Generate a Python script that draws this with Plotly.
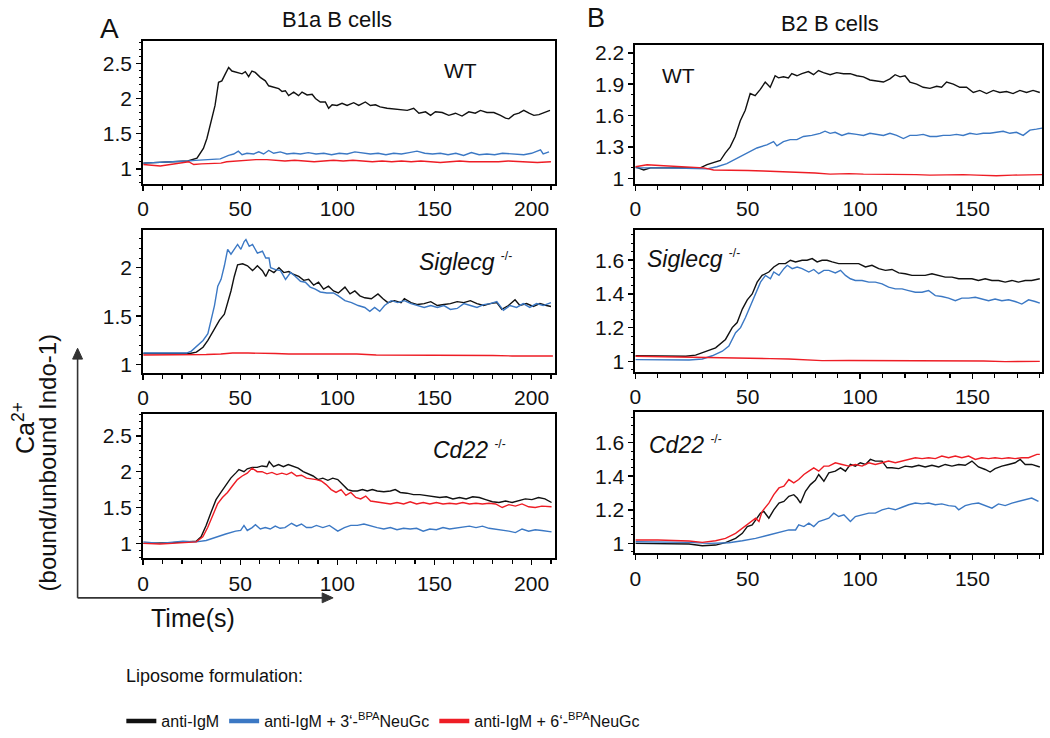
import plotly.graph_objects as go

FONT = "Liberation Sans, Arial, Helvetica, sans-serif"
BLACK = "#111111"
BLUE = "#3b78c4"
RED = "#ee1d25"

series_names = ["anti-IgM",
                "anti-IgM + 3‘-<sup>BPA</sup>NeuGc",
                "anti-IgM + 6‘-<sup>BPA</sup>NeuGc"]
series_colors = [BLACK, BLUE, RED]

# ---------------- B1a B cells, WT ----------------
b1a_wt_igm = [(0,1.08),(10,1.09),(23,1.11),(27.7,1.15),(31,1.29),(32.8,1.43),(34.5,1.62),(37,1.90),(38.8,2.23),(40.5,2.25),(42.3,2.35),(44,2.44),(45.7,2.39),(48.3,2.37),(50.9,2.35),(52.6,2.38),(54.3,2.31),(56,2.39),(57.7,2.37),(60.3,2.30),(62.9,2.25),(64.6,2.18),(67.2,2.16),(69.8,2.14),(71.5,2.10),(73.2,2.11),(74.9,2.04),(77.5,2.09),(80,2.04),(81.8,2.09),(84.4,2.05),(87,2.06),(88.7,2.00),(91.2,1.95),(93.8,1.95),(95.5,1.86),(97.3,1.91),(99.8,1.90),(102.4,1.93),(105,1.90),(108.4,1.94),(111,1.90),(114.4,1.95),(117,1.90),(119.6,1.91),(122,1.88),(125.6,1.86),(129,1.85),(132.5,1.85),(136,1.83),(139.3,1.86),(142,1.79),(145.4,1.81),(148,1.76),(150.5,1.81),(154,1.80),(157.4,1.76),(160.8,1.79),(164.2,1.75),(167.7,1.81),(171,1.79),(173.7,1.83),(177,1.80),(180.6,1.80),(184,1.76),(186.6,1.72),(188.3,1.71),(190.9,1.77),(193.5,1.79),(196,1.83),(198.7,1.79),(201.2,1.76),(203.8,1.77),(206.4,1.80),(209.5,1.83)]
b1a_wt_3 = [(0,1.08),(10,1.09),(23,1.11),(26.8,1.12),(32.8,1.13),(39.7,1.14),(44,1.19),(46.6,1.21),(49,1.25),(50.9,1.20),(53.4,1.22),(56.9,1.21),(59.5,1.24),(62,1.21),(64.6,1.26),(67.2,1.22),(70.6,1.24),(74,1.21),(77.5,1.22),(81,1.21),(85,1.23),(89,1.21),(93,1.22),(97,1.20),(101,1.22),(105,1.21),(109,1.24),(113,1.22),(117,1.21),(121,1.22),(125,1.20),(129,1.22),(133,1.21),(137,1.23),(141,1.25),(145,1.22),(149,1.21),(153,1.22),(157,1.20),(161,1.22),(165,1.19),(169,1.23),(173,1.20),(177,1.21),(181,1.20),(185,1.22),(189,1.21),(193,1.20),(196,1.20),(200,1.22),(204.6,1.27),(206,1.21),(209,1.24)]
b1a_wt_6 = [(0,1.06),(4,1.05),(8.8,1.04),(23.4,1.10),(26,1.06),(30,1.07),(35,1.07),(40,1.08),(43,1.10),(48,1.11),(53,1.13),(58,1.13),(63.7,1.13),(68,1.12),(73,1.11),(78,1.12),(83,1.11),(88,1.10),(93,1.11),(98,1.12),(103,1.11),(108,1.12),(113,1.11),(118,1.10),(123,1.11),(128,1.10),(133,1.11),(138,1.10),(143,1.11),(148,1.10),(153,1.09),(158,1.10),(163,1.11),(168,1.10),(173,1.10),(178,1.09),(183,1.10),(188,1.11),(193,1.10),(198,1.10),(203,1.09),(210,1.10)]

# ---------------- B1a B cells, Siglecg-/- ----------------
b1a_sig_igm = [(0,1.115),(10,1.115),(24,1.115),(27.4,1.13),(30.8,1.18),(33.3,1.25),(35.9,1.34),(39.3,1.46),(41.8,1.52),(43.5,1.63),(45.2,1.76),(46.9,1.91),(48.6,2.03),(51.2,2.04),(53.7,2.02),(56.3,1.97),(58.8,2.02),(61.4,1.97),(63.1,1.91),(64.8,1.98),(67.3,1.95),(69.9,2.00),(72.4,1.95),(75,1.96),(77.6,1.93),(80.1,1.91),(82.7,1.87),(85.2,1.88),(87.8,1.82),(90.3,1.85),(92.9,1.78),(95.4,1.81),(98,1.76),(100.5,1.74),(103.9,1.80),(106.5,1.73),(109,1.76),(111.6,1.71),(114.1,1.69),(117.5,1.68),(120.9,1.73),(123.5,1.68),(126,1.64),(129.4,1.66),(132.8,1.64),(134.5,1.68),(137.9,1.64),(141.3,1.62),(144.7,1.63),(148.1,1.65),(151.5,1.61),(154.9,1.62),(158.2,1.63),(161.7,1.65),(165.1,1.64),(168.5,1.66),(171.9,1.63),(175.3,1.61),(178.7,1.63),(182.1,1.64),(184.7,1.57),(188.1,1.61),(191.5,1.67),(194,1.61),(197.4,1.63),(200.9,1.60),(204.3,1.63),(207.7,1.61),(210,1.60)]
b1a_sig_3 = [(0,1.12),(10,1.12),(22.3,1.12),(24.8,1.14),(28.2,1.20),(30.8,1.25),(33.3,1.32),(35,1.46),(36.7,1.61),(38.4,1.81),(40.1,1.88),(41.8,2.02),(43.5,2.19),(45.2,2.14),(46.9,2.19),(48.6,2.24),(50.3,2.19),(52,2.27),(52.9,2.29),(54.6,2.22),(56.3,2.24),(58.8,2.15),(61.4,2.17),(63.1,2.10),(64.8,2.10),(65.6,2.00),(68.2,1.98),(70.7,1.97),(73.3,1.88),(75.9,1.95),(78.4,1.91),(81,1.86),(83.5,1.85),(86,1.80),(88.6,1.78),(91.2,1.75),(94.6,1.74),(98,1.74),(100.5,1.71),(103.9,1.66),(107.3,1.64),(110.7,1.61),(114.1,1.59),(116.7,1.55),(119.2,1.59),(121.8,1.55),(124.3,1.61),(127.7,1.66),(131.1,1.64),(134.5,1.66),(137.9,1.63),(141.3,1.61),(144.7,1.59),(148.1,1.61),(151.5,1.59),(154.9,1.61),(158.2,1.57),(161.7,1.58),(165.1,1.63),(168.5,1.61),(171.9,1.59),(175.3,1.62),(178.7,1.63),(182.1,1.65),(185.5,1.56),(188.9,1.61),(192.3,1.59),(195.7,1.63),(199.1,1.59),(202.6,1.63),(206,1.61),(210,1.64)]
b1a_sig_6 = [(0,1.10),(12,1.10),(24,1.10),(32.5,1.105),(40,1.11),(46,1.12),(54,1.12),(61.4,1.12),(68,1.115),(75,1.11),(85,1.11),(92,1.105),(100.5,1.105),(110,1.11),(120,1.10),(134.5,1.10),(145,1.10),(155,1.095),(168.5,1.095),(180,1.095),(190,1.09),(200,1.09),(211,1.09)]

# ---------------- B1a B cells, Cd22-/- ----------------
b1a_cd22_igm = [(0,1.0),(8.6,1.0),(15,1.01),(22,1.02),(27.3,1.03),(29.8,1.09),(32.4,1.25),(34.9,1.43),(37.5,1.61),(40,1.71),(42.5,1.80),(45.1,1.91),(47.6,1.98),(49.3,2.03),(51.9,2.00),(53.6,2.04),(56.1,2.06),(58.7,2.06),(61.2,2.08),(63.7,2.07),(64.9,2.14),(67.1,2.07),(69.7,2.10),(72.2,2.07),(74.7,2.10),(77.3,2.08),(79.8,2.05),(82.4,2.00),(84.9,1.97),(87.5,1.94),(90,1.89),(92.5,1.91),(95.1,1.88),(97.6,1.91),(100.2,1.89),(102.7,1.82),(105.3,1.75),(107.8,1.73),(110.3,1.73),(112.9,1.75),(115.4,1.73),(118,1.75),(120.5,1.73),(123.9,1.72),(127.3,1.73),(129.8,1.75),(132.4,1.71),(135.8,1.70),(139.2,1.68),(142.5,1.68),(145.9,1.67),(149.3,1.65),(152.7,1.64),(156.1,1.65),(159.5,1.62),(162.9,1.64),(166.3,1.62),(169.7,1.65),(173.1,1.64),(176.4,1.61),(179.8,1.58),(183.2,1.57),(186.6,1.59),(190,1.57),(193.4,1.59),(196.8,1.62),(200.2,1.61),(203.6,1.64),(206.9,1.62),(210.3,1.57)]
b1a_cd22_3 = [(0,1.02),(8.6,1.0),(20.5,1.03),(27.3,1.02),(32.4,1.04),(37.5,1.09),(42.5,1.13),(47.6,1.17),(50.2,1.18),(51.9,1.25),(53.6,1.18),(56.1,1.22),(57.8,1.26),(60.3,1.20),(62.9,1.22),(65.4,1.20),(68,1.24),(70.5,1.21),(73,1.22),(76.4,1.28),(79,1.24),(81.5,1.27),(84.1,1.22),(86.6,1.22),(89.2,1.25),(92.5,1.22),(95.9,1.25),(100.2,1.17),(103.6,1.22),(106.9,1.25),(110.3,1.25),(113.7,1.27),(117.1,1.24),(120.5,1.22),(123.9,1.20),(127.3,1.22),(130.7,1.19),(134.1,1.21),(137.5,1.20),(140.8,1.21),(144.2,1.17),(147.6,1.20),(151,1.19),(154.4,1.22),(157.8,1.20),(161.2,1.21),(164.6,1.22),(168,1.24),(171.4,1.22),(174.7,1.24),(178.1,1.21),(181.5,1.20),(184.9,1.18),(188.3,1.17),(191.7,1.15),(195.1,1.20),(198.5,1.17),(201.9,1.19),(205.3,1.18),(210.3,1.16)]
b1a_cd22_6 = [(0,1.0),(8.6,0.99),(15,1.0),(22,1.01),(27.3,1.02),(30.7,1.09),(33.2,1.22),(35.8,1.39),(38.3,1.55),(40.8,1.64),(43.4,1.71),(45.9,1.80),(48.5,1.89),(51,1.94),(53.6,1.98),(56.1,2.05),(58.7,2.00),(61.2,2.00),(63.7,1.97),(66.3,1.99),(68.8,1.96),(71.4,1.98),(73.9,1.96),(76.4,1.99),(79,1.94),(81.5,1.95),(84.1,1.91),(86.6,1.90),(89.2,1.89),(91.7,1.87),(94.2,1.82),(96.8,1.75),(99.3,1.71),(101.9,1.75),(104.4,1.67),(106.9,1.71),(109.5,1.64),(112,1.62),(114.6,1.66),(117.1,1.59),(120.5,1.58),(123.9,1.57),(127.3,1.55),(130.7,1.57),(134.1,1.55),(137.5,1.58),(140.8,1.55),(144.2,1.57),(147.6,1.55),(151,1.57),(154.4,1.55),(157.8,1.56),(161.2,1.55),(164.6,1.57),(168,1.55),(171.4,1.56),(174.7,1.55),(178.1,1.56),(181.5,1.55),(184.9,1.50),(188.3,1.54),(191.7,1.52),(195.1,1.55),(198.5,1.51),(201.9,1.50),(205.3,1.52),(210.3,1.51)]

# ---------------- B2 B cells, WT ----------------
b2_wt_igm = [(0,1.11),(3.7,1.08),(6.7,1.10),(15,1.10),(28.9,1.10),(31.9,1.13),(34.8,1.15),(37.8,1.17),(40,1.24),(42.2,1.30),(44.4,1.40),(46.7,1.55),(48.9,1.65),(51.1,1.81),(53.3,1.79),(55.6,1.85),(57.8,1.92),(60,1.87),(62.2,1.98),(63.7,1.96),(65.9,1.97),(68.1,1.96),(69.6,2.00),(71.9,1.98),(74.1,2.00),(77,2.02),(79.3,1.99),(81.5,2.03),(83.7,2.01),(86.7,1.99),(89.6,2.01),(92.6,2.00),(95.6,2.00),(98.5,1.98),(101.5,1.97),(104.4,1.94),(107.4,1.93),(110.4,1.92),(113.3,1.95),(115.6,1.99),(117.8,1.97),(120,1.98),(122.2,1.92),(125.2,1.90),(128.1,1.87),(131.1,1.86),(134.1,1.88),(136.3,1.87),(138.5,1.92),(141.5,1.90),(144.4,1.87),(147.4,1.87),(150.4,1.82),(153.3,1.84),(156.3,1.81),(159.3,1.84),(162.2,1.82),(165.2,1.83),(168.1,1.81),(171.1,1.84),(174.1,1.82),(177,1.84),(180,1.82)]
b2_wt_3 = [(0,1.10),(12.6,1.10),(31.9,1.09),(36.3,1.11),(40.7,1.14),(45.2,1.19),(49.6,1.24),(54.1,1.29),(58.5,1.32),(61.5,1.35),(63,1.31),(65.9,1.35),(68.9,1.37),(71.9,1.37),(74.8,1.40),(78.5,1.41),(82.2,1.43),(84.4,1.45),(86.7,1.43),(88.9,1.44),(91.9,1.41),(94.8,1.43),(98.5,1.42),(101.5,1.41),(104.4,1.43),(107.4,1.42),(110.4,1.41),(113.3,1.43),(116.3,1.41),(119.3,1.38),(122.2,1.41),(125.2,1.41),(128.1,1.42),(131.1,1.40),(134.1,1.40),(137,1.41),(140,1.41),(142.9,1.42),(145.9,1.41),(148.9,1.43),(151.9,1.42),(154.8,1.43),(157.8,1.43),(160.7,1.44),(163.7,1.45),(166.7,1.43),(169.6,1.44),(172.6,1.41),(175.6,1.46),(178.5,1.47),(181,1.48)]
b2_wt_6 = [(0,1.11),(5.2,1.13),(12.6,1.12),(20,1.11),(30.4,1.10),(34.8,1.08),(42.2,1.08),(50,1.075),(57,1.07),(65,1.065),(71.9,1.06),(80,1.05),(86.7,1.04),(95,1.045),(101.5,1.04),(110,1.04),(116.3,1.035),(125,1.035),(131.1,1.03),(140,1.035),(145.9,1.035),(152,1.03),(160.7,1.025),(168,1.03),(175.6,1.03),(181,1.035)]

# ---------------- B2 B cells, Siglecg-/- ----------------
b2_sig_igm = [(0,1.033),(10,1.033),(22.4,1.03),(26.8,1.037),(31.3,1.057),(35.7,1.08),(40.1,1.13),(43.1,1.20),(45.3,1.23),(47.6,1.31),(49.8,1.365),(52,1.40),(54.2,1.47),(56.4,1.51),(59.4,1.53),(61.6,1.56),(63.9,1.58),(66.8,1.58),(69,1.60),(71.3,1.59),(74.2,1.60),(76.4,1.60),(78.7,1.61),(80.9,1.59),(83.1,1.60),(85.3,1.60),(87.6,1.59),(90.5,1.58),(93.5,1.58),(96.4,1.58),(99.4,1.58),(102.4,1.56),(105.3,1.57),(108.3,1.55),(111.3,1.54),(114.2,1.545),(117.2,1.525),(120.1,1.52),(123.1,1.51),(126.1,1.51),(129,1.51),(132,1.52),(135,1.51),(137.9,1.50),(140.9,1.50),(143.9,1.49),(146.8,1.49),(149.8,1.49),(152.7,1.48),(155.7,1.49),(158.7,1.48),(161.6,1.48),(164.6,1.47),(167.6,1.48),(170.5,1.47),(173.5,1.48),(176.4,1.48),(180,1.49)]
b2_sig_3 = [(0,1.01),(10,1.01),(23.9,1.008),(29.8,1.014),(34.2,1.033),(38.7,1.06),(41.6,1.09),(44.6,1.17),(46.8,1.20),(49,1.26),(51.3,1.33),(53.5,1.40),(55.7,1.47),(57.9,1.51),(60.1,1.49),(61.6,1.53),(63.9,1.51),(66.1,1.55),(67.6,1.57),(69.8,1.55),(72,1.56),(74.2,1.55),(77.2,1.53),(79.4,1.545),(81.6,1.52),(83.9,1.54),(86.1,1.54),(89,1.525),(91.3,1.54),(93.5,1.51),(95.7,1.49),(97.9,1.48),(100.9,1.48),(103.9,1.47),(106.8,1.47),(109.8,1.46),(112.7,1.44),(115.7,1.43),(118.7,1.43),(121.6,1.42),(124.6,1.41),(127.6,1.41),(130.5,1.42),(133.5,1.39),(136.4,1.385),(139.4,1.375),(142.4,1.36),(145.3,1.375),(148.3,1.375),(151.3,1.38),(154.2,1.37),(157.2,1.36),(160.1,1.37),(163.1,1.36),(166.1,1.365),(169,1.355),(172,1.34),(175,1.365),(177.9,1.355),(180,1.345)]
b2_sig_6 = [(0,1.03),(12,1.028),(23.9,1.023),(38.7,1.02),(50,1.018),(60,1.016),(68.3,1.014),(76,1.01),(83.1,1.004),(95,1.005),(112.7,1.004),(125,1.004),(142.4,1.004),(155,1.002),(164.6,0.998),(172,1.0),(180,1.0)]

# ---------------- B2 B cells, Cd22-/- ----------------
b2_cd22_igm = [(0,1.0),(9,1.0),(23.9,0.996),(29.8,0.986),(35.7,0.99),(40.1,1.004),(44.6,1.03),(47.6,1.06),(49.8,1.10),(52,1.11),(53.5,1.14),(55.7,1.18),(57.2,1.19),(59.4,1.15),(61.6,1.20),(63.9,1.24),(66.1,1.25),(68.3,1.28),(70.5,1.29),(72,1.27),(73.5,1.24),(75.7,1.31),(77.9,1.35),(80.1,1.375),(81.6,1.41),(83.9,1.37),(86.1,1.42),(89,1.43),(91.3,1.45),(93.5,1.43),(95.7,1.47),(97.9,1.46),(100.1,1.48),(102.4,1.47),(104.6,1.50),(106.8,1.49),(109.8,1.49),(112,1.45),(114.2,1.45),(117.2,1.445),(120.1,1.46),(123.1,1.455),(126.1,1.465),(129,1.455),(132,1.465),(135,1.455),(137.9,1.47),(140.9,1.46),(143.9,1.47),(146.8,1.465),(149.8,1.49),(152.7,1.455),(155.7,1.44),(157.9,1.425),(160.1,1.445),(163.1,1.46),(166.1,1.47),(169,1.48),(171.3,1.50),(173.5,1.47),(176.4,1.47),(180,1.455)]
b2_cd22_3 = [(0,1.01),(10,1.01),(23.9,1.006),(32.7,1.0),(41.6,1.004),(47.6,1.016),(53.5,1.03),(59.4,1.05),(62.4,1.06),(65.3,1.07),(68.3,1.08),(71.3,1.08),(72.7,1.11),(75,1.10),(77.2,1.12),(79.4,1.10),(81.6,1.13),(83.9,1.14),(86.1,1.15),(88.3,1.18),(90.5,1.16),(92.8,1.17),(95.7,1.13),(97.9,1.16),(100.9,1.17),(103.9,1.18),(106.8,1.18),(109.8,1.20),(112.7,1.21),(115.7,1.20),(118.7,1.215),(121.6,1.23),(124.6,1.24),(127.6,1.235),(130.5,1.24),(133.5,1.23),(136.4,1.235),(139.4,1.225),(142.4,1.22),(143.9,1.20),(146.8,1.225),(149.8,1.235),(152.7,1.24),(155.7,1.225),(158.7,1.21),(161.6,1.235),(164.6,1.225),(167.6,1.24),(170.5,1.25),(173.5,1.26),(176.4,1.27),(179.4,1.25)]
b2_cd22_6 = [(0,1.02),(10,1.02),(23.9,1.014),(29.8,1.006),(35.7,1.016),(40.1,1.03),(44.6,1.06),(47.6,1.09),(50.5,1.12),(53.5,1.15),(55,1.13),(56.4,1.19),(59.4,1.24),(61.6,1.29),(63.9,1.33),(66.1,1.34),(68.3,1.38),(70.5,1.36),(72.7,1.38),(75,1.41),(77.2,1.43),(79.4,1.45),(81.6,1.43),(83.9,1.46),(86.1,1.46),(89,1.48),(92,1.47),(95,1.46),(97.9,1.47),(100.9,1.46),(103.9,1.48),(106.8,1.47),(109.8,1.48),(112.7,1.49),(115.7,1.48),(118.7,1.49),(121.6,1.50),(124.6,1.51),(127.6,1.505),(130.5,1.51),(133.5,1.505),(136.4,1.52),(139.4,1.51),(142.4,1.52),(145.3,1.51),(148.3,1.52),(151.3,1.50),(154.2,1.51),(157.2,1.505),(160.1,1.51),(163.1,1.505),(166.1,1.51),(169,1.505),(172,1.51),(175,1.51),(178.7,1.53),(180,1.53)]

# panel id -> (black, blue, red)
panels = {
    1: (b1a_wt_igm, b1a_wt_3, b1a_wt_6),
    2: (b1a_sig_igm, b1a_sig_3, b1a_sig_6),
    3: (b1a_cd22_igm, b1a_cd22_3, b1a_cd22_6),
    4: (b2_wt_igm, b2_wt_3, b2_wt_6),
    5: (b2_sig_igm, b2_sig_3, b2_sig_6),
    6: (b2_cd22_igm, b2_cd22_3, b2_cd22_6),
}

# Full-window figure; the page's default body margin is removed by post_script.
W, H = 1050, 738
def px(x):
    return x / W
def py(y):
    return 1 - y / H

xdom = {1: (138, 552), 2: (138, 552), 3: (138, 552),
        4: (633, 1042), 5: (633, 1042), 6: (633, 1042)}
ydom = {1: (38, 182), 2: (229, 374), 3: (416, 562),
        4: (42, 182), 5: (229, 373), 6: (414, 557)}
xrng = {1: [0, 212], 2: [0, 212], 3: [0, 212], 4: [0, 181], 5: [0, 181], 6: [0, 181]}
yrng = {1: [0.79, 2.81], 2: [0.915, 2.39], 3: [0.79, 2.80],
        4: [0.95, 2.27], 5: [0.937, 1.78], 6: [0.94, 1.78]}
ydt = {1: 0.5, 2: 0.5, 3: 0.5, 4: 0.3, 5: 0.2, 6: 0.2}
yminor = {1: 0.1, 2: 0.1, 3: 0.1, 4: 0.1, 5: 0.05, 6: 0.05}

fig = go.Figure()
for p, curves in panels.items():
    sfx = "" if p == 1 else str(p)
    for i in range(3):
        pts = curves[i]
        fig.add_trace(go.Scatter(
            x=[a for a, b in pts], y=[b for a, b in pts],
            mode="lines", line=dict(color=series_colors[i], width=1.4),
            xaxis="x" + sfx, yaxis="y" + sfx, showlegend=False,
            hoverinfo="skip"))

# legend entries (thicker swatches)
for i in range(3):
    fig.add_trace(go.Scatter(x=[None], y=[None], mode="lines",
                             line=dict(color=series_colors[i], width=4.5),
                             name=series_names[i], showlegend=True))

layout = dict(
    width=W, height=H,
    margin=dict(l=0, r=0, t=0, b=0),
    paper_bgcolor="white", plot_bgcolor="white",
    font=dict(family=FONT, color="#111111"),
    showlegend=True,
    hovermode=False,
    legend=dict(orientation="h", x=px(116), xanchor="left", y=py(727), yanchor="middle",
                font=dict(size=16, family=FONT, color="#111111"),
                bgcolor="rgba(0,0,0,0)", borderwidth=0, tracegroupgap=0),
)
for p in panels:
    sfx = "" if p == 1 else str(p)
    x0, x1 = xdom[p]
    y0, y1 = ydom[p]
    layout["xaxis" + sfx] = dict(
        domain=[px(x0), px(x1)], range=xrng[p], anchor="y" + sfx,
        showgrid=False, zeroline=False, showline=True, linecolor="black",
        linewidth=2, mirror=True, ticks="outside", ticklen=5, tickwidth=1.5,
        tickcolor="black", tick0=0, dtick=50,
        minor=dict(dtick=10, tick0=0, ticks="outside", ticklen=4, tickwidth=1.2,
                   tickcolor="black"),
        tickfont=dict(size=21, family=FONT, color="#111111"))
    layout["yaxis" + sfx] = dict(
        domain=[py(y1), py(y0)], range=yrng[p], anchor="x" + sfx,
        showgrid=False, zeroline=False, showline=True, linecolor="black",
        linewidth=2, mirror=True, ticks="outside", ticklen=5, tickwidth=1.5,
        tickcolor="black", tick0=1, dtick=ydt[p],
        minor=dict(dtick=yminor[p], tick0=1, ticks="outside", ticklen=2.5,
                   tickwidth=1, tickcolor="black"),
        tickfont=dict(size=21, family=FONT, color="#111111"))
fig.update_layout(**layout)

ann = []
def text(x, y, s, size, xanchor="center", yanchor="middle", angle=0):
    ann.append(dict(x=px(x), y=py(y), xref="paper", yref="paper", text=s,
                    showarrow=False, xanchor=xanchor, yanchor=yanchor,
                    textangle=angle, font=dict(size=size, family=FONT, color="#111111")))

text(104, 25, "A", 28)
text(333, 16, "B1a B cells", 22)
text(593, 14, "B", 27)
text(829, 20, "B2 B cells", 22)
text(457, 67, "WT", 21)
text(676, 72, "WT", 21)
sup = "<sup><span style='font-size:12px'>-/-</span></sup>"
text(413, 262, "<i>Siglecg</i> " + sup, 23, xanchor="left")
text(643, 258, "<i>Siglecg</i> " + sup, 23, xanchor="left")
text(427, 452, "<i>Cd22</i> " + sup, 23, xanchor="left")
text(645, 447, "<i>Cd22</i> " + sup, 23, xanchor="left")
text(18, 430, "Ca<sup>2+</sup>", 25, angle=-90)
text(42, 465, "(bound/unbound Indo-1)", 24, angle=-90)
text(188, 622, "Time(s)", 25)
text(119, 681, "Liposome formulation:", 18, xanchor="left")
fig.update_layout(annotations=ann)

# axis arrows drawn as shapes (line + filled head)
AC = "#333333"
shapes = [
    dict(type="line", xref="paper", yref="paper", x0=px(72), x1=px(72),
         y0=py(602), y1=py(358), line=dict(color=AC, width=1.6)),
    dict(type="path", xref="paper", yref="paper",
         path="M {:.5f},{:.5f} L {:.5f},{:.5f} L {:.5f},{:.5f} Z".format(
             px(67), py(360), px(72), py(349), px(77), py(360)),
         fillcolor=AC, line=dict(color=AC, width=1)),
    dict(type="line", xref="paper", yref="paper", x0=px(72), x1=px(320),
         y0=py(602), y1=py(602), line=dict(color=AC, width=1.6)),
    dict(type="path", xref="paper", yref="paper",
         path="M {:.5f},{:.5f} L {:.5f},{:.5f} L {:.5f},{:.5f} Z".format(
             px(318), py(597), px(329), py(602), px(318), py(607)),
         fillcolor=AC, line=dict(color=AC, width=1)),
]
fig.update_layout(shapes=shapes)

fig.write_html("out.html",
               config={"displayModeBar": False, "staticPlot": True},
               post_script="document.body.style.margin='0px';document.body.style.overflow='hidden';")
